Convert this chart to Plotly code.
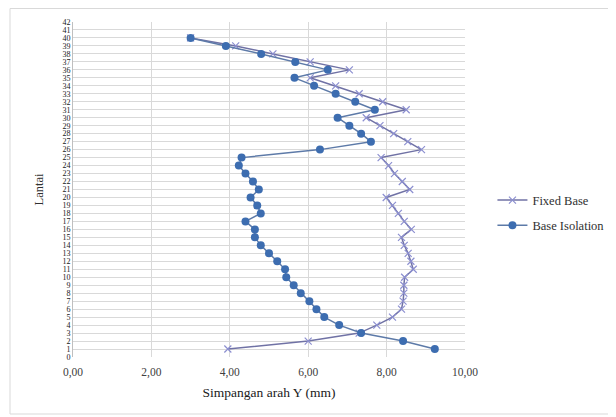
import plotly.graph_objects as go

floors = list(range(1, 41))

fixed_base = [3.95, 6.00, 7.30, 7.75, 8.15, 8.38, 8.42, 8.44, 8.44, 8.46,
              8.68, 8.62, 8.55, 8.45, 8.38, 8.63, 8.45, 8.30, 8.15, 7.99,
              8.59, 8.40, 8.20, 8.05, 7.86, 8.89, 8.54, 8.18, 7.83, 7.48,
              8.50, 7.90, 7.30, 6.70, 6.05, 7.05, 6.05, 5.10, 4.15, 3.00]

base_isolation = [9.23, 8.42, 7.35, 6.79, 6.41, 6.21, 6.03, 5.81, 5.63, 5.44,
                  5.41, 5.21, 5.00, 4.79, 4.64, 4.64, 4.40, 4.79, 4.70, 4.53,
                  4.74, 4.59, 4.40, 4.23, 4.30, 6.30, 7.60, 7.35, 7.05, 6.75,
                  7.70, 7.20, 6.70, 6.15, 5.65, 6.50, 5.67, 4.80, 3.90, 3.00]

x_ticks = [0, 2, 4, 6, 8, 10]
x_tick_labels = ["0,00", "2,00", "4,00", "6,00", "8,00", "10,00"]
y_ticks = list(range(0, 43))

font_family = "Liberation Serif, Times New Roman, serif"

fig = go.Figure()
fig.add_trace(go.Scatter(
    x=fixed_base, y=floors, mode="lines+markers", name="Fixed Base",
    legendgroup="a",
    line=dict(color="#7072a5", width=1.5),
    marker=dict(symbol="x-thin", size=7, line=dict(color="#8c8fd0", width=1.2)),
))
fig.add_trace(go.Scatter(
    x=base_isolation, y=floors, mode="lines+markers", name="Base Isolation",
    legendgroup="b",
    line=dict(color="#5d7aa8", width=1.5),
    marker=dict(symbol="circle", size=8, color="#3d6db0"),
))

fig.update_layout(
    width=608, height=409,
    margin=dict(l=65, r=151, t=14, b=60, autoexpand=False),
    paper_bgcolor="white", plot_bgcolor="white",
    font=dict(family=font_family, color="#404040", size=11),
    showlegend=True,
    legend=dict(x=1.07, y=0.43, xanchor="left", yanchor="middle",
                font=dict(size=12.5, color="#303030"), tracegroupgap=6,
                bgcolor="rgba(0,0,0,0)"),
    xaxis=dict(range=[0, 10], tickvals=x_ticks, ticktext=x_tick_labels,
               showgrid=True, gridcolor="#d9d9d9", gridwidth=1,
               zeroline=False, showline=False, ticks="", automargin=False,
               ticklabelstandoff=6,
               tickfont=dict(size=11.5, color="#404040"),
               title=dict(text="Simpangan arah Y (mm)", font=dict(size=13.5, color="#202020"), standoff=10)),
    yaxis=dict(range=[0, 42], tickvals=y_ticks,
               showgrid=True, gridcolor="#d9d9d9", gridwidth=1,
               zeroline=False, showline=True, linecolor="#bfbfbf", ticks="",
               automargin=False,
               tickfont=dict(size=8, color="#202020"),
               title=dict(text="Lantai", font=dict(size=12.5, color="#303030"), standoff=16)),
)

# outer chart border
fig.add_shape(type="rect", xref="paper", yref="paper",
              x0=-63 / 392, x1=1 + 145 / 392, y0=-57 / 335, y1=1 + 13.5 / 335,
              line=dict(color="#d9d9d9", width=1), fillcolor="rgba(0,0,0,0)", layer="below")

fig.write_html("out.html")
